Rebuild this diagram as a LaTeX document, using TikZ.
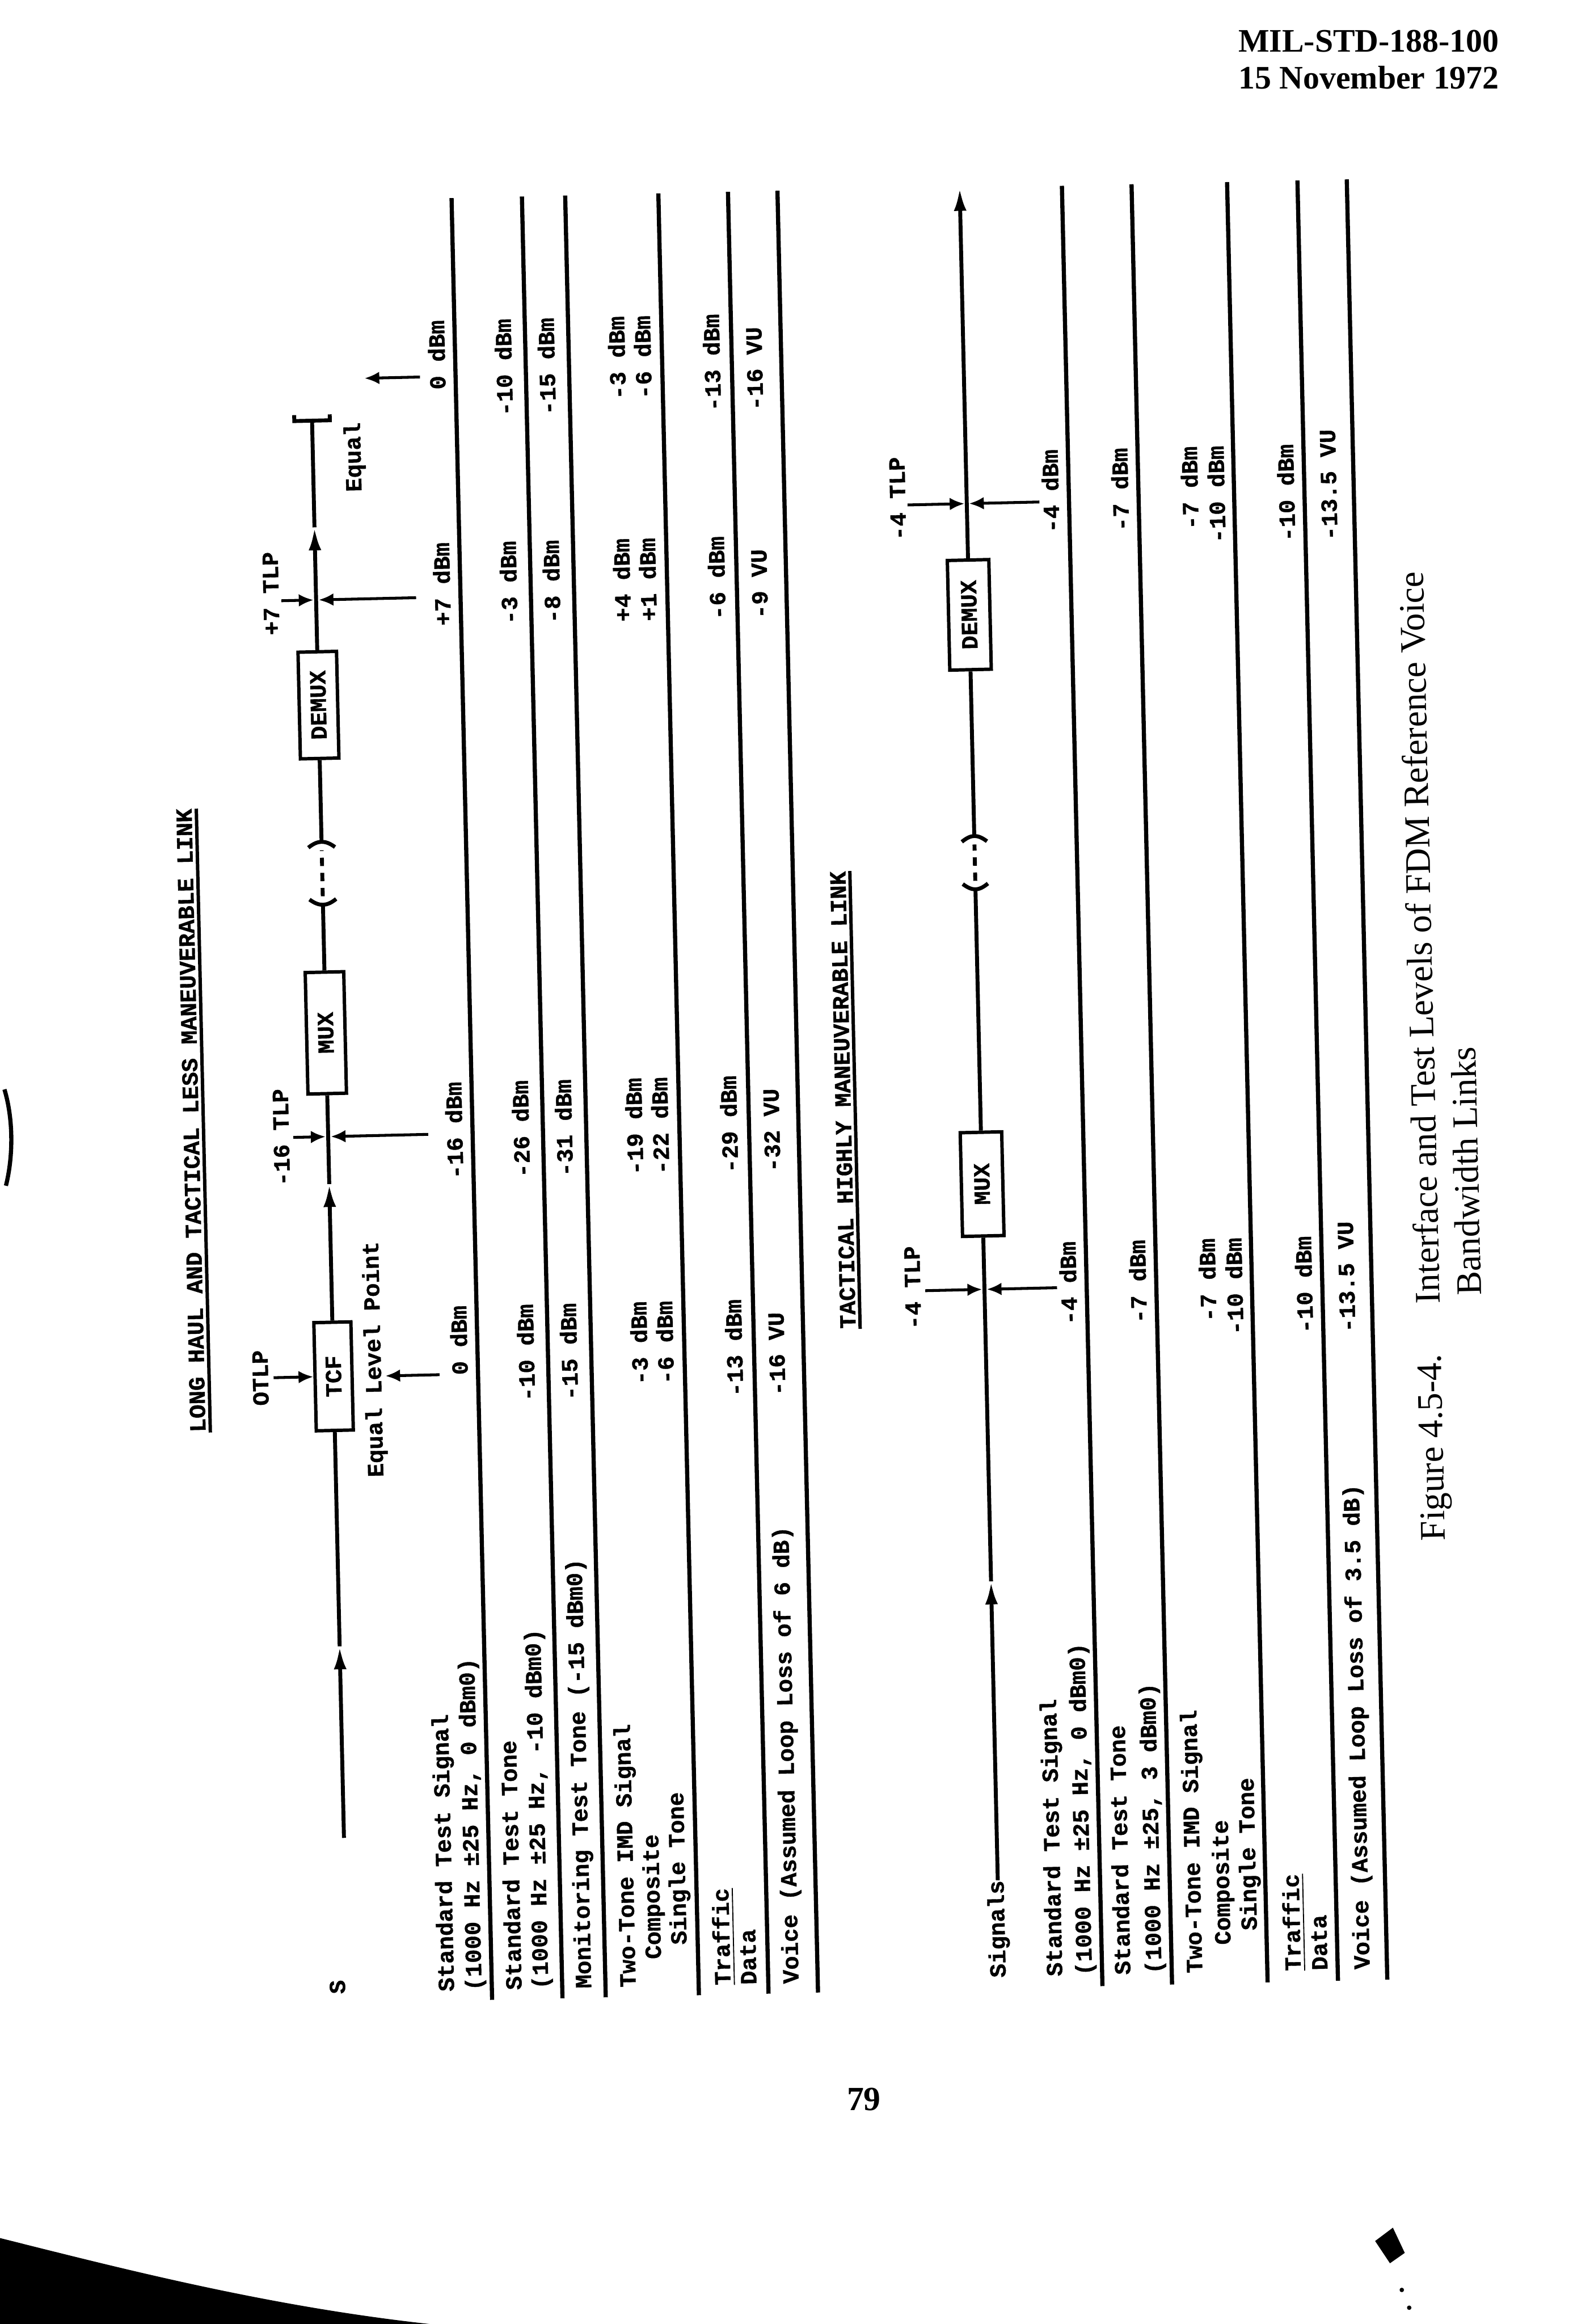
\documentclass[tikz,border=0pt]{standalone}
\usepackage{fontspec}
\setmainfont{Liberation Serif}
\newfontface\monof[FakeBold=1.0]{Liberation Mono Bold}
\usetikzlibrary{arrows.meta}
\newcommand{\vv}[2]{\makebox[1.8em][r]{#1}\ #2}
\tikzset{
  lab/.style={font=\monof\fontsize{8.87}{10}\selectfont, inner sep=0pt, anchor=base west},
  lbc/.style={font=\monof\fontsize{8.87}{10}\selectfont, inner sep=0pt, anchor=base},
  boxn/.style={draw, line width=1.3pt, font=\monof\fontsize{8.87}{10}\selectfont, inner sep=1pt, fill=white},
  rule/.style={line width=1.6pt},
  sig/.style={line width=1.5pt},
  sar/.style={line width=1.5pt, -{Latex[length=0.31cm,width=0.17cm]}},
  crs/.style={line width=1.1pt, -{Latex[length=0.2cm,width=0.17cm]}},
  capt/.style={font=\fontsize{13.8}{16}\selectfont, inner sep=0pt, anchor=base west},
  hdr/.style={font=\bfseries\fontsize{12.6}{15}\selectfont, inner sep=0pt},
}
\begin{document}
\begin{tikzpicture}[x=0.02cm,y=-0.02cm]
\fill[white] (0,0) rectangle (1073,1568);
\useasboundingbox (0,0) rectangle (1073,1568);
% header and page number
\node[hdr, anchor=base east] (h1) at (1012,35) {MIL-STD-188-100};
\node[hdr, anchor=base east] (h2) at (1012,60) {15 November 1972};
\node[hdr, anchor=base, font=\bfseries\fontsize{13}{15}\selectfont] (pg) at (583,1424) {79};
% scan marks
\draw[line width=1.6pt] (3,735) .. controls (9,755) and (9,780) .. (4,800);
\fill (0,1510) .. controls (80,1530) and (180,1556) .. (290,1568) -- (0,1568) -- cycle;
\fill (928,1512) -- (940,1503) -- (948,1520) -- (938,1527) -- cycle;
\fill (946,1545) circle (1.5);
\fill (951,1557) circle (1.5);

\begin{scope}[shift={(300,1345)}, rotate=91.29, transform shape]
% ---------------- top diagram ----------------
\node[lab] (ttl1) at (382,-152.7) {LONG HAUL AND TACTICAL LESS MANEUVERABLE LINK};
\draw[line width=1.3pt] (382,-149.5) -- (803,-149.5);
\node[lab] (sS) at (1,-67) {S};
\coordinate (s1a) at (106.5,-65.5);
\coordinate (s1b) at (235.8,-65.5);
\node[boxn, minimum width=1.46cm, minimum height=0.5cm] (tcf) at (418,-65.5) {TCF};
\coordinate (s1c) at (547.8,-65.5);
\node[boxn, minimum width=1.64cm, minimum height=0.52cm] (mux1) at (649.8,-65.5) {MUX};
\coordinate (b1a) at (736.3,-65.5);
\coordinate (b1b) at (778.7,-65.5);
\node[boxn, minimum width=1.44cm, minimum height=0.52cm] (dmx1) at (871,-65.5) {DEMUX};
\coordinate (s1d) at (991,-65.5);
\coordinate (s1e) at (1063,-65.5);
\draw[sar] (s1a) -- (s1b);
\draw[sig] (s1b) -- (tcf.west);
\draw[sar] (tcf.east) -- (s1c);
\draw[sig] (s1c) -- (mux1.west);
\draw[sig] (mux1.east) -- (b1a);
\draw[sig] (b1b) -- (dmx1.west);
\draw[sar] (dmx1.east) -- (s1d);
\draw[sig] (s1d) -- (s1e);
\coordinate (tb1) at (1067,-77.5);
\coordinate (tb2) at (1063,-77.5);
\coordinate (tb3) at (1063,-53.5);
\coordinate (tb4) at (1067,-53.5);
\draw[sig] (tb1) -- (tb2) -- (tb3) -- (tb4);
% break
\draw[sig] (740,-74.5) .. controls (735,-68) and (735,-63) .. (740,-56.5);
\draw[sig] (775,-74.5) .. controls (780,-68) and (780,-63) .. (775,-56.5);
\draw[sig, dash pattern=on 3.2pt off 2.6pt] (742,-65.5) -- (773,-65.5);
% OTLP
\node[lbc] (otlp) at (418,-109.7) {OTLP};
\coordinate (otl) at (418,-106);
\draw[crs] (otl) -- (tcf.north);
% Equal level point
\node[lab] (elp) at (349,-33.4) {Equal Level Point};
\coordinate (ea1) at (417.5,6);
\coordinate (ea2) at (417.5,-30.6);
\draw[crs] (ea1) -- (ea2);
\node[lab] (eq) at (1014,-33.2) {Equal};
\coordinate (eb1) at (1090.8,8);
\coordinate (eb2) at (1090.8,-29.5);
\draw[crs] (eb1) -- (eb2);
% TLP crosses
\node[lbc] (tlp16) at (580,-92) {-16 TLP};
\coordinate (c1l) at (579.8,-89);
\coordinate (c1a) at (579.8,-67.2);
\coordinate (c1r) at (579.8,2);
\coordinate (c1b) at (579.8,-63.8);
\draw[crs] (c1l) -- (c1a);
\draw[crs] (c1r) -- (c1b);
\node[lbc] (tlp7) at (947,-90.7) {+7 TLP};
\coordinate (c2l) at (942,-89);
\coordinate (c2a) at (942,-67.2);
\coordinate (c2r) at (942,2);
\coordinate (c2b) at (942,-63.8);
\draw[crs] (c2l) -- (c2a);
\draw[crs] (c2r) -- (c2b);
% rules
\foreach \w in {32,79.5,108.7,171.6,218.6,252} \draw[rule] (-5,\w) -- (1211,\w);
% labels
\node[lab] (ta1) at (1,6.5) {Standard Test Signal};
\node[lab] (ta2) at (1,25.1) {(1000 Hz ±25 Hz, 0 dBm0)};
\node[lab] (tb1l) at (1,52.1) {Standard Test Tone};
\node[lab] (tb2l) at (1,70.1) {(1000 Hz ±25 Hz, -10 dBm0)};
\node[lab] (tc1) at (1,99.1) {Monitoring Test Tone (-15 dBm0)};
\node[lab] (td1) at (1,129.1) {Two-Tone IMD Signal};
\node[lab] (td2) at (1,146.6) {\hspace*{1.2em}Composite};
\node[lab] (td3) at (1,164.1) {\hspace*{1.8em}Single Tone};
\node[lab] (te1) at (1,193.1) {\underline{Traffic}};
\node[lab] (te2) at (1,210.6) {Data};
\node[lab] (tf1) at (1,239.1) {Voice (Assumed Loop Loss of 6 dB)};
% values col A
\node[lab] (vA1) at (398,25.1) {\vv{0}{dBm}};
\node[lab] (vA2) at (398,70.1) {\vv{-10}{dBm}};
\node[lab] (vA3) at (398,99.1) {\vv{-15}{dBm}};
\node[lab] (vA4) at (398,146.6) {\vv{-3}{dBm}};
\node[lab] (vA5) at (398,164.1) {\vv{-6}{dBm}};
\node[lab] (vA6) at (398,210.6) {\vv{-13}{dBm}};
\node[lab] (vA7) at (398,239.1) {\vv{-16}{VU}};
% col B
\node[lab] (vB1) at (549,25.1) {\vv{-16}{dBm}};
\node[lab] (vB2) at (549,70.1) {\vv{-26}{dBm}};
\node[lab] (vB3) at (549,99.1) {\vv{-31}{dBm}};
\node[lab] (vB4) at (549,146.6) {\vv{-19}{dBm}};
\node[lab] (vB5) at (549,164.1) {\vv{-22}{dBm}};
\node[lab] (vB6) at (549,210.6) {\vv{-29}{dBm}};
\node[lab] (vB7) at (549,239.1) {\vv{-32}{VU}};
% col C
\node[lab] (vC1) at (913,25.1) {\vv{+7}{dBm}};
\node[lab] (vC2) at (913,70.1) {\vv{-3}{dBm}};
\node[lab] (vC3) at (913,99.1) {\vv{-8}{dBm}};
\node[lab] (vC4) at (913,146.6) {\vv{+4}{dBm}};
\node[lab] (vC5) at (913,164.1) {\vv{+1}{dBm}};
\node[lab] (vC6) at (913,210.6) {\vv{-6}{dBm}};
\node[lab] (vC7) at (913,239.1) {\vv{-9}{VU}};
% col D
\node[lab] (vD1) at (1063,25.1) {\vv{0}{dBm}};
\node[lab] (vD2) at (1063,70.1) {\vv{-10}{dBm}};
\node[lab] (vD3) at (1063,99.1) {\vv{-15}{dBm}};
\node[lab] (vD4) at (1063,146.6) {\vv{-3}{dBm}};
\node[lab] (vD5) at (1063,164.1) {\vv{-6}{dBm}};
\node[lab] (vD6) at (1063,210.6) {\vv{-13}{dBm}};
\node[lab] (vD7) at (1063,239.1) {\vv{-16}{VU}};

% ---------------- bottom diagram ----------------
\node[lab] (ttl2) at (442,287.5) {TACTICAL HIGHLY MANEUVERABLE LINK};
\draw[line width=1.3pt] (442,290.5) -- (751,290.5);
\node[lab] (sgl) at (2,378.9) {Signals};
\coordinate (s2a) at (68,375);
\coordinate (s2b) at (269.7,375);
\node[boxn, minimum width=1.4cm, minimum height=0.56cm] (mux2) at (537.8,375) {MUX};
\coordinate (b2a) at (736.7,375);
\coordinate (b2b) at (772.8,375);
\node[boxn, minimum width=1.48cm, minimum height=0.56cm] (dmx2) at (922,375) {DEMUX};
\coordinate (s2e) at (1210.2,375);
\draw[sar] (s2a) -- (s2b);
\draw[sig] (s2b) -- (mux2.west);
\draw[sig] (mux2.east) -- (b2a);
\draw[sig] (b2b) -- (dmx2.west);
\draw[sar] (dmx2.east) -- (s2e);
\draw[sig] (740.5,366.5) .. controls (735.5,373) and (735.5,377) .. (740.5,383.5);
\draw[sig] (769,366.5) .. controls (774,373) and (774,377) .. (769,383.5);
\draw[sig, dash pattern=on 3.2pt off 2.6pt] (742.5,375) -- (767,375);
\node[lbc] (tlp4a) at (469,331.7) {-4 TLP};
\coordinate (c3l) at (466.8,335);
\coordinate (c3a) at (466.8,373.5);
\coordinate (c3r) at (466.8,424);
\coordinate (c3b) at (466.8,376.5);
\draw[crs] (c3l) -- (c3a);
\draw[crs] (c3r) -- (c3b);
\node[lbc] (tlp4b) at (1001.5,333.6) {-4 TLP};
\coordinate (c4l) at (997.1,335);
\coordinate (c4a) at (997.1,373.5);
\coordinate (c4r) at (997.1,424);
\coordinate (c4b) at (997.1,376.5);
\draw[crs] (c4l) -- (c4a);
\draw[crs] (c4r) -- (c4b);
\foreach \w in {444,491,555.5,603,636.3} \draw[rule] (-5,\w) -- (1210,\w);
\node[lab] (ua1) at (2,417.1) {Standard Test Signal};
\node[lab] (ua2) at (2,437.1) {(1000 Hz ±25 Hz, 0 dBm0)};
\node[lab] (ub1) at (2,463.1) {Standard Test Tone};
\node[lab] (ub2) at (2,484.1) {(1000 Hz ±25, 3 dBm0)};
\node[lab] (uc1) at (2,511.6) {Two-Tone IMD Signal};
\node[lab] (uc2) at (2,531.1) {\hspace*{1.2em}Composite};
\node[lab] (uc3) at (2,549.1) {\hspace*{1.8em}Single Tone};
\node[lab] (ud1) at (2,578.1) {\underline{Traffic}};
\node[lab] (ud2) at (2,596.1) {Data};
\node[lab] (ue1) at (2,624.6) {Voice (Assumed Loop Loss of 3.5 dB)};
\node[lab] (vE1) at (432,437.1) {\vv{-4}{dBm}};
\node[lab] (vE2) at (432,484.1) {\vv{-7}{dBm}};
\node[lab] (vE3) at (432,531.1) {\vv{-7}{dBm}};
\node[lab] (vE4) at (432,549.1) {\vv{-10}{dBm}};
\node[lab] (vE5) at (432,596.1) {\vv{-10}{dBm}};
\node[lab] (vE6) at (432,624.6) {-13.5 VU};
\node[lab] (vF1) at (966.5,437.1) {\vv{-4}{dBm}};
\node[lab] (vF2) at (966.5,484.1) {\vv{-7}{dBm}};
\node[lab] (vF3) at (966.5,531.1) {\vv{-7}{dBm}};
\node[lab] (vF4) at (966.5,549.1) {\vv{-10}{dBm}};
\node[lab] (vF5) at (966.5,596.1) {\vv{-10}{dBm}};
\node[lab] (vF6) at (966.5,624.6) {-13.5 VU};
% caption
\node[capt] (cap1) at (290,682) {Figure 4.5-4.};
\node[capt] (cap2) at (450,682) {Interface and Test Levels of FDM Reference Voice};
\node[capt] (cap3) at (455,710) {Bandwidth Links};
\end{scope}
\end{tikzpicture}
\end{document}
